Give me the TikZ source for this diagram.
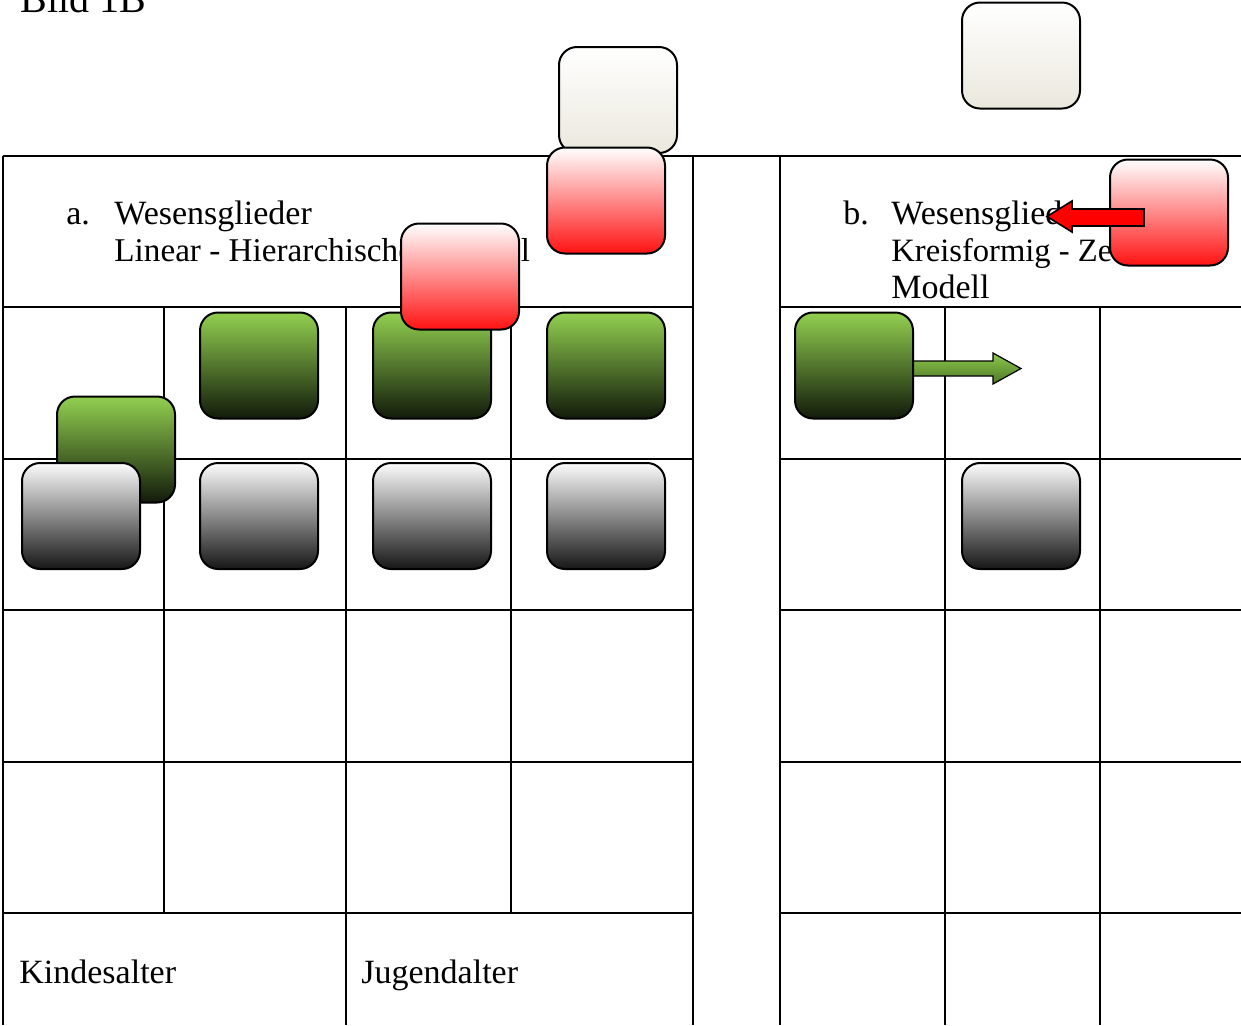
\documentclass[tikz,border=0pt]{standalone}
\usepackage{fontspec}
\setmainfont{Liberation Serif}
\definecolor{gtop}{RGB}{146,208,80}
\definecolor{gmid}{RGB}{108,160,60}
\definecolor{gbot}{RGB}{18,26,10}
\definecolor{ktop}{RGB}{252,252,252}
\definecolor{kmid}{RGB}{196,196,196}
\definecolor{kbot}{RGB}{22,22,22}
\definecolor{rmid}{RGB}{255,185,185}
\definecolor{rbot}{RGB}{255,18,18}
\definecolor{cbot}{RGB}{234,232,221}
\definecolor{atop}{RGB}{140,200,75}
\definecolor{abot}{RGB}{78,120,40}
\begin{document}
\begin{tikzpicture}[x=0.5pt,y=-0.5pt,
  grid/.style={line width=1.2pt},
  box/.style={draw=black,line width=1pt,rounded corners=9pt,minimum width=59pt,minimum height=53pt,inner sep=0pt},
  greenbox/.style={box,top color=gtop,middle color=gmid,bottom color=gbot},
  graybox/.style={box,top color=ktop,middle color=kmid,bottom color=kbot},
  redbox/.style={box,top color=white,middle color=rmid,bottom color=rbot},
  creambox/.style={box,top color=white,bottom color=cbot},
  txt/.style={anchor=base west,inner sep=0pt,font=\fontsize{17pt}{18.5pt}\selectfont},
  title/.style={anchor=base west,inner sep=0pt,font=\fontsize{20pt}{22pt}\selectfont}]
\useasboundingbox (0,0) rectangle (1241,1025);
% ---- table lines
\draw[grid] (3,156) -- (1241,156);
\draw[grid] (3,307) -- (693,307);
\draw[grid] (780,307) -- (1241,307);
\foreach \yy in {459,610,762,913}{
  \draw[grid] (3,\yy) -- (693,\yy);
  \draw[grid] (780,\yy) -- (1241,\yy);
}
\draw[grid] (3,156) -- (3,1025);
\draw[grid] (164,307) -- (164,913);
\draw[grid] (346,307) -- (346,1025);
\draw[grid] (511,307) -- (511,913);
\draw[grid] (693,156) -- (693,1025);
\draw[grid] (780,156) -- (780,1025);
\draw[grid] (945,307) -- (945,1025);
\draw[grid] (1100,307) -- (1100,1025);
% ---- texts
\node[title] (ttl) at (20,12) {Bild 1B};
\node[txt] (la) at (66,224) {a.};
\node[txt] (ta1) at (114,224) {Wesensglieder};
\node[txt,font=\fontsize{16.6pt}{18.5pt}\selectfont] (ta2) at (114,261) {Linear - Hierarchisches Modell};
\node[txt] (lb) at (843,224) {b.};
\node[txt] (tb1) at (891,224) {Wesensglieder};
\node[txt,font=\fontsize{16.3pt}{18.5pt}\selectfont] (tb2) at (891,261) {Kreisformig - Ze};
\node[txt] (tb3) at (891,298) {Modell};
\node[txt] (kind) at (19,983) {Kindesalter};
\node[txt] (jug) at (361,983) {Jugendalter};
% ---- green arrow (under its box)
\draw[line width=0.6pt,top color=atop,bottom color=abot]
  (905,361) -- (993,361) -- (993,353) -- (1021,368.5) -- (993,384) -- (993,376) -- (905,376) -- cycle;
% ---- boxes
\node[creambox] (c1) at (618,100) {};
\node[creambox] (c2) at (1021,55.5) {};
\node[redbox] (r1) at (606,200.5) {};
\node[greenbox] (g1) at (259,365.5) {};
\node[greenbox] (g2) at (432,365.5) {};
\node[greenbox] (g3) at (606,365.5) {};
\node[greenbox] (g4) at (854,365.5) {};
\node[greenbox] (g5) at (116,449.5) {};
\node[redbox] (r2) at (460,276.5) {};
\node[redbox] (r3) at (1169,212.5) {};
\node[graybox] (k1) at (81,516) {};
\node[graybox] (k2) at (259,516) {};
\node[graybox] (k3) at (432,516) {};
\node[graybox] (k4) at (606,516) {};
\node[graybox] (k5) at (1021,516) {};
% ---- red arrow (over its box)
\draw[line width=0.8pt,fill=red]
  (1144,209) -- (1072,209) -- (1072,201) -- (1047,216.5) -- (1072,232) -- (1072,226) -- (1144,226) -- cycle;
\end{tikzpicture}
\end{document}
